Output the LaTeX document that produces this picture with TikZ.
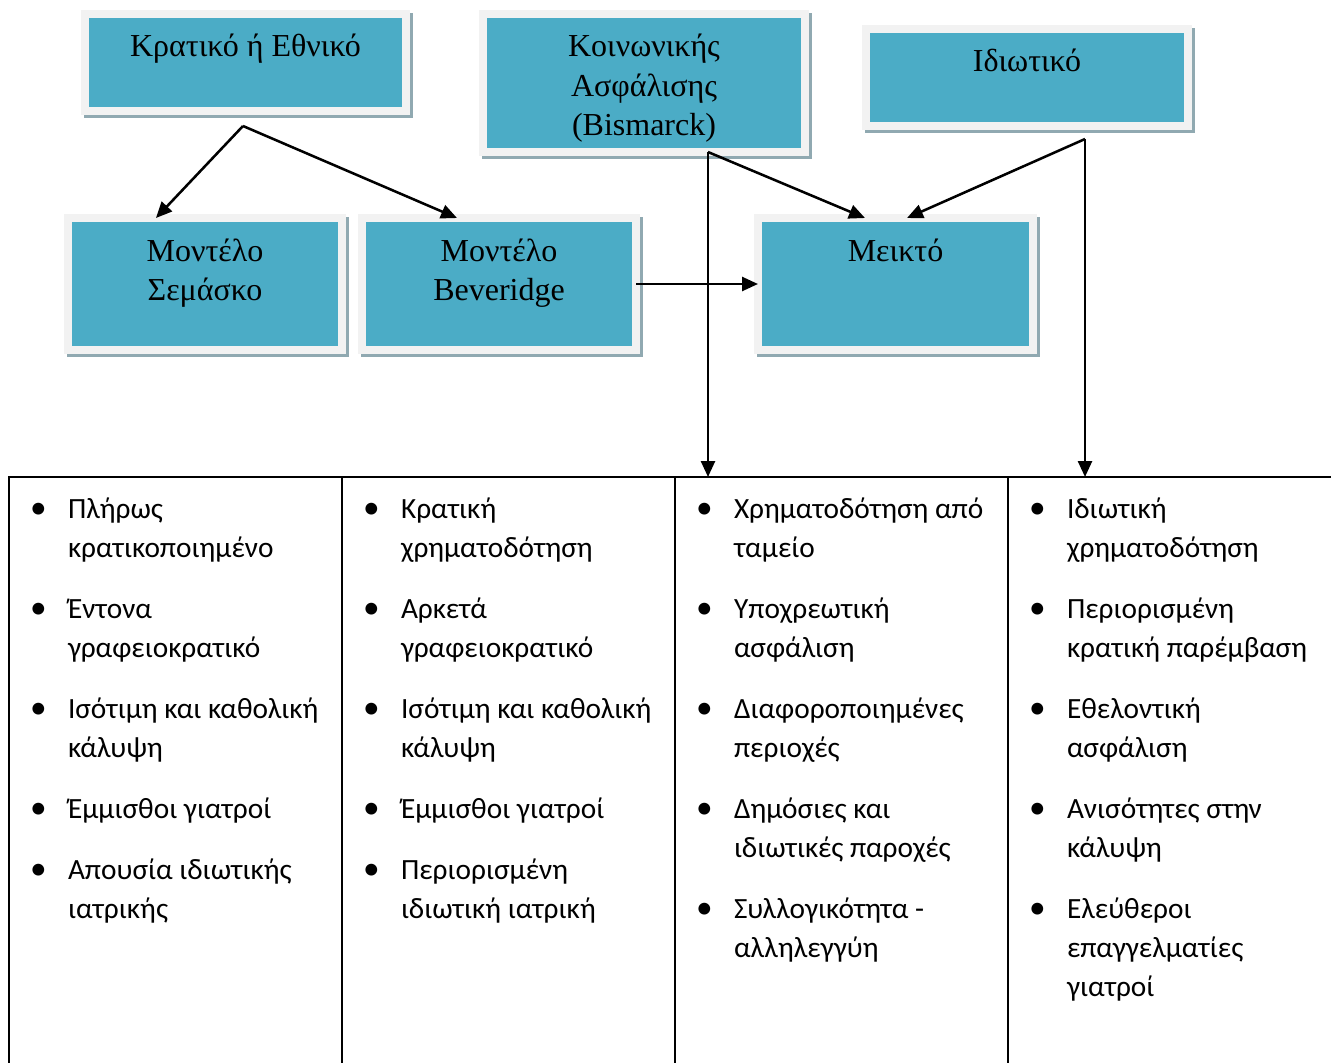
\documentclass[tikz,border=0pt]{standalone}
\usepackage{fontspec}
\setmainfont{Liberation Serif}
\newfontfamily\listfont{Carlito}
\usetikzlibrary{arrows.meta}
\usetikzlibrary{calc}
\usetikzlibrary{positioning}

\definecolor{boxteal}{HTML}{4BACC6}
\definecolor{boxframe}{HTML}{F2F2F2}
\definecolor{boxshadow}{HTML}{90A9B1}

% text of a model box, set from the top
\newcommand{\boxtext}[3]{\parbox[t][#2][t]{#1}{\centering\fontsize{24}{29.5}\selectfont\rule{0pt}{32.25pt}#3}}
% bullet and hanging indent of the lists
\newcommand{\bul}{\makebox[44.25pt][l]{\hspace{15.75pt}{\fontsize{25}{0}\selectfont\textbullet}}}
\newcommand{\cont}{\hspace*{44.25pt}}

\begin{document}
\begin{tikzpicture}[x=0.75pt, y=-0.75pt,
    model/.style={fill=boxteal, draw=boxframe, line width=6pt, inner sep=0pt, outer sep=0pt,
      preaction={draw=boxshadow, fill=boxshadow, transform canvas={xshift=2.25pt, yshift=-2.25pt}}},
    link/.style={line width=1.9pt, -{Triangle[length=12pt, width=10.5pt]}},
    grid/.style={line width=1.5pt},
    listcol/.style={anchor=north west, inner sep=0pt, outer sep=0pt, align=left,
      font=\listfont\fontsize{22}{29.25}\selectfont}]
    \useasboundingbox (0,0) rectangle (1331,1063);

    % model boxes
    \node[model] (kratiko) at (245.5,62.5) {\boxtext{240.75pt}{72.75pt}{Κρατικό ή Εθνικό}};
    \node[model] (bismarck) at (644,83) {\boxtext{241.5pt}{103.5pt}{Κοινωνικής\\Ασφάλισης\\(Bismarck)}};
    \node[model] (idiotiko) at (1027,77.5) {\boxtext{241.5pt}{72.75pt}{Ιδιωτικό}};
    \node[model] (semasko) at (205,284) {\boxtext{205.5pt}{99pt}{Μοντέλο\\Σεμάσκο}};
    \node[model] (beveridge) at (499,284) {\boxtext{205.5pt}{99pt}{Μοντέλο\\Beveridge}};
    \node[model] (mikto) at (895.5,284) {\boxtext{206.25pt}{99pt}{Μεικτό}};

    % table
    \coordinate (tbl) at (9,477);
    \draw[grid] (9,1063) -- (tbl) -- (1331,477);
    \foreach \x in {342,675,1008}
        \draw[grid] (\x,477) -- (\x,1063);

    % connectors
    \coordinate (kr-split) at ($(kratiko.south)+(-2.5,15)$);
    \coordinate (bis-split) at ($(bismarck.south)+(64,0)$);
    \coordinate (priv-split) at ($(idiotiko.south)+(58,13)$);
    \draw[link] (kr-split) -- ($(semasko.north)+(-49,0)$);
    \draw[link] (kr-split) -- ($(beveridge.north)+(-42,0)$);
    \draw[link] (bis-split) -- ($(mikto.north)+(-30.5,0)$);
    \draw[link] (bis-split) -- (bis-split |- tbl);
    \draw[link] (priv-split) -- ($(mikto.north)+(11.5,0)$);
    \draw[link] (priv-split) -- (priv-split |- tbl);
    \draw[link] (beveridge.east) -- (mikto.west);

    % lists
    \node[listcol] (list-sem) at (9,477) {\rule{0pt}{30.75pt}\bul Πλήρως\\ \cont κρατικοποιημένο\\[16.5pt]
        \bul Έντονα\\ \cont γραφειοκρατικό\\[16.5pt]
        \bul Ισότιμη και καθολική\\ \cont κάλυψη\\[16.5pt]
        \bul Έμμισθοι γιατροί\\[16.5pt]
        \bul Απουσία ιδιωτικής\\ \cont ιατρικής};
    \node[listcol] (list-bev) at (342,477) {\rule{0pt}{30.75pt}\bul Κρατική\\ \cont χρηματοδότηση\\[16.5pt]
        \bul Αρκετά\\ \cont γραφειοκρατικό\\[16.5pt]
        \bul Ισότιμη και καθολική\\ \cont κάλυψη\\[16.5pt]
        \bul Έμμισθοι γιατροί\\[16.5pt]
        \bul Περιορισμένη\\ \cont ιδιωτική ιατρική};
    \node[listcol] (list-bis) at (675,477) {\rule{0pt}{30.75pt}\bul Χρηματοδότηση από\\ \cont ταμείο\\[16.5pt]
        \bul Υποχρεωτική\\ \cont ασφάλιση\\[16.5pt]
        \bul Διαφοροποιημένες\\ \cont περιοχές\\[16.5pt]
        \bul Δημόσιες και\\ \cont ιδιωτικές παροχές\\[16.5pt]
        \bul Συλλογικότητα -\\ \cont αλληλεγγύη};
    \node[listcol] (list-priv) at (1008,477) {\rule{0pt}{30.75pt}\bul Ιδιωτική\\ \cont χρηματοδότηση\\[16.5pt]
        \bul Περιορισμένη\\ \cont κρατική παρέμβαση\\[16.5pt]
        \bul Εθελοντική\\ \cont ασφάλιση\\[16.5pt]
        \bul Ανισότητες στην\\ \cont κάλυψη\\[16.5pt]
        \bul Ελεύθεροι\\ \cont επαγγελματίες\\ \cont γιατροί};
\end{tikzpicture}
\end{document}
